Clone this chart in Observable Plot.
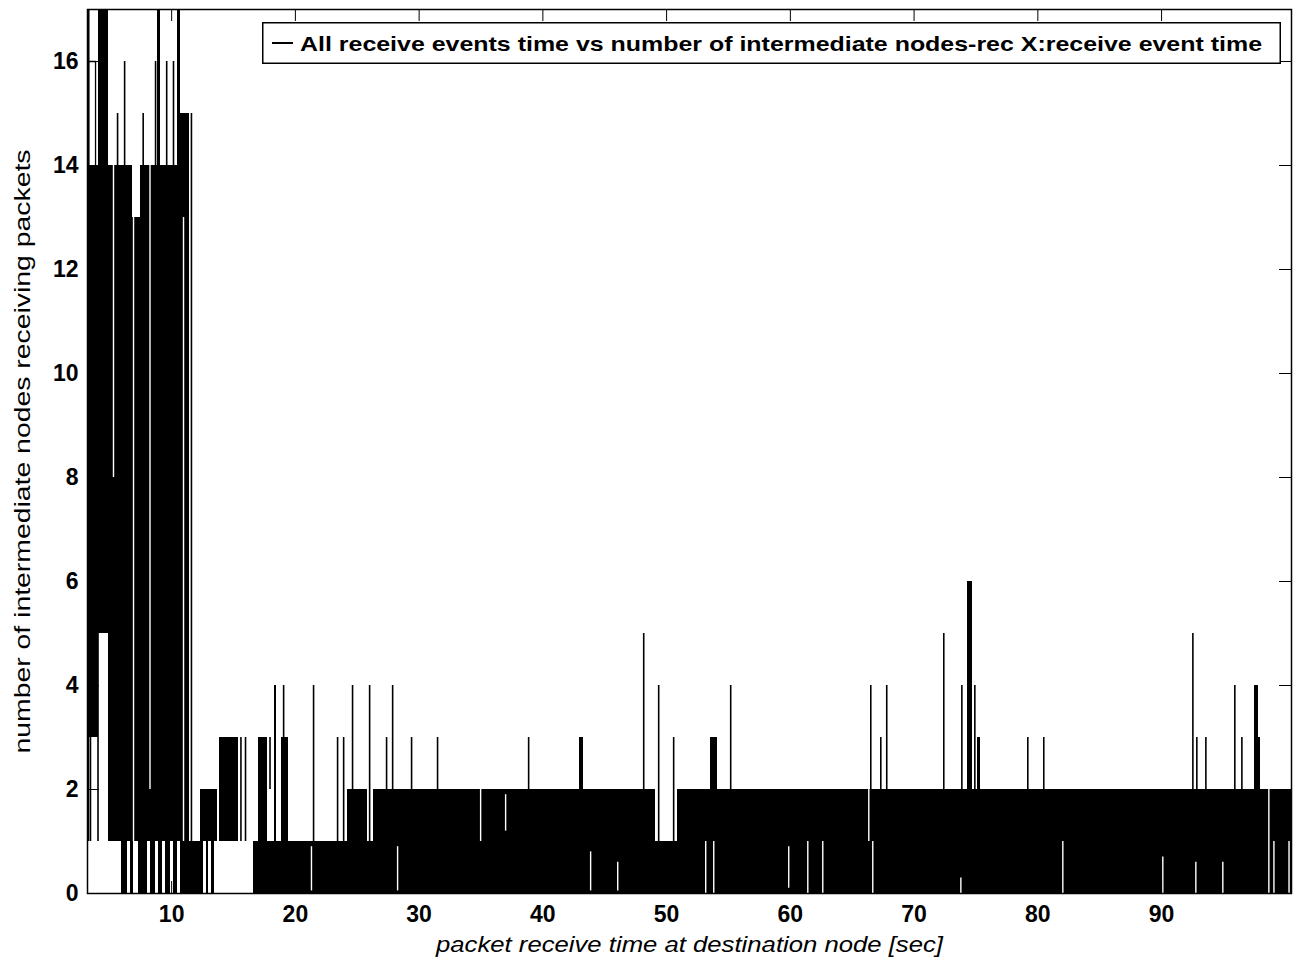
<!DOCTYPE html>
<html><head><meta charset="utf-8">
<script src="https://cdn.jsdelivr.net/npm/d3@7"></script>
<script src="https://cdn.jsdelivr.net/npm/@observablehq/plot@0.6"></script>
<style>
html,body{margin:0;padding:0;background:#fff;}
#wrap{position:relative;width:1298px;height:967px;overflow:hidden;background:#fff;}
#legend{position:absolute;left:262px;top:22px;}
</style></head><body>
<div id="wrap"></div>
<script>
// ---- tick labels and text ----
const xTicks = [10, 20, 30, 40, 50, 60, 70, 80, 90];
const yTicks = [0, 2, 4, 6, 8, 10, 12, 14, 16];
const xDomain = [3.2, 100.5];
const yDomain = [0, 17];
const xLabel = "packet receive time at destination node [sec]";
const yLabel = "number of intermediate nodes receiving packets";
const legendText = "All receive events time vs number of intermediate nodes-rec X:receive event time";

// ---- data: dense oscillation ranges [tStart, tEnd, lowNodes, highNodes] ----
const denseBands = [
  [3.2, 4.09, 3, 14], [4.09, 4.9, 5, 17], [4.9, 6.84, 1, 14], [6.84, 7.48, 1, 13],
  [7.48, 10.45, 1, 14], [8.85, 9.1, 14, 17], [10.45, 10.72, 1, 17], [10.72, 11.45, 1, 15],
  [5.93, 6.46, 0, 1], [6.64, 6.91, 0, 1], [7.35, 8.02, 0, 1], [8.29, 8.7, 0, 1],
  [8.97, 9.24, 0, 1], [9.51, 9.91, 0, 1], [10.18, 10.45, 0, 1], [10.72, 10.99, 0, 1],
  [10.96, 12.34, 0, 1], [12.34, 13.71, 1, 2],
  [12.34, 12.55, 0, 1], [12.8, 13.0, 0, 1], [13.25, 13.5, 0, 1],
  [13.85, 15.41, 1, 3], [17.02, 17.75, 1, 3], [18.3, 18.5, 1, 4], [18.85, 19.45, 1, 3],
  [16.62, 100.5, 0, 1],
  [24.22, 25.84, 1, 2], [26.32, 49.12, 1, 2], [50.9, 100.5, 1, 2],
  [42.95, 43.3, 2, 3], [53.56, 54.13, 2, 3], [74.3, 74.75, 2, 6], [75.1, 75.35, 2, 3],
  [97.55, 97.8, 2, 4], [97.8, 98.0, 2, 3]
];

// ---- data: single receive spikes [t, fromNodes, toNodes] ----
const spikes = [
  [3.3, 14, 17], [3.28, 1, 3], [3.44, 1, 3], [4.05, 1, 5],
  [5.63, 14, 15], [6.2, 14, 16], [7.7, 14, 15], [8.7, 14, 16], [9.6, 14, 16], [10.15, 14, 16],
  [11.6, 1, 15],
  [15.6, 1, 3], [15.97, 1, 3], [17.95, 2, 3], [19.05, 3, 4],
  [21.47, 1, 4], [23.41, 1, 3], [23.9, 1, 3], [24.62, 2, 4], [26.0, 1, 4],
  [27.37, 2, 3], [27.86, 2, 4], [29.39, 2, 3], [31.49, 2, 3], [38.85, 2, 3],
  [48.15, 2, 5], [49.36, 1, 4], [50.57, 1, 3], [55.18, 2, 4],
  [66.5, 2, 4], [67.31, 2, 3], [67.79, 2, 4], [72.4, 2, 5], [73.86, 2, 4], [74.91, 2, 4],
  [79.19, 2, 3], [80.48, 2, 3], [92.53, 2, 5], [92.85, 2, 3], [93.58, 2, 3],
  [95.92, 2, 4], [96.49, 2, 3]
];

// ---- data: times with no events inside a dense range [t, fromNodes, toNodes] ----
const gaps = [
  [5.3, 8, 14], [6.92, 1, 14], [8.25, 2, 14], [10.96, 1, 13],
  [34.97, 1, 2], [36.99, 1.2, 1.9], [66.34, 1, 2], [98.67, 0, 2],
  [21.3, 0.05, 0.9], [28.26, 0.05, 0.9], [43.86, 0.05, 0.8], [46.05, 0.05, 0.6],
  [53.16, 0, 1], [53.81, 0, 1], [59.87, 0.1, 0.9], [61.41, 0, 1], [62.62, 0, 1],
  [66.66, 0, 1], [73.78, 0, 0.3], [82.02, 0, 1], [90.1, 0, 0.7], [92.77, 0, 0.6],
  [94.95, 0, 0.6], [99.08, 0, 1], [100.3, 0, 1]
];

// ---- data: plateau trace at the start [t, nodes] ----
const plateau = [[3.28, 14], [3.28, 16], [3.85, 16], [3.85, 14]];

const W = 1298, H = 967, mL = 87, mR = 7, mT = 9, mB = 74;
const frameW = W - mL - mR, frameH = H - mT - mB, tickLen = 12;
const font = "'Liberation Sans', Arial, sans-serif";

const chart = Plot.plot({
  width: W, height: H,
  marginLeft: mL, marginRight: mR, marginTop: mT, marginBottom: mB,
  x: {domain: xDomain},
  y: {domain: yDomain},
  style: {background: "#fff", fontFamily: font, color: "#000"},
  marks: [
    Plot.rect(denseBands, {x1: d => d[0], x2: d => d[1], y1: d => d[2], y2: d => d[3], fill: "#000", inset: 0, shapeRendering: "crispEdges"}),
    Plot.ruleX(spikes, {x: d => d[0], y1: d => d[1], y2: d => d[2], stroke: "#000", strokeWidth: 1.6}),
    Plot.ruleX(gaps, {x: d => d[0], y1: d => d[1], y2: d => d[2], stroke: "#fff", strokeWidth: 1.4}),
    Plot.line(plateau, {x: d => d[0], y: d => d[1], stroke: "#000", strokeWidth: 1.3}),
    Plot.tickX(xTicks, {x: d => d, insetTop: frameH - tickLen, stroke: "#000"}),
    Plot.tickX(xTicks, {x: d => d, insetBottom: frameH - tickLen, stroke: "#000"}),
    Plot.tickY(yTicks, {y: d => d, insetRight: frameW - tickLen, stroke: "#000"}),
    Plot.tickY(yTicks, {y: d => d, insetLeft: frameW - tickLen, stroke: "#000"}),
    Plot.frame({stroke: "#000", strokeWidth: 1.5}),
    Plot.axisX({ticks: xTicks, tickSize: 0, tickPadding: 12, label: null, fontSize: 23, fontWeight: "bold"}),
    Plot.axisY({ticks: yTicks, tickSize: 0, tickPadding: 9, label: null, fontSize: 23, fontWeight: "bold"}),
    Plot.text([xLabel], {text: d => d, frameAnchor: "bottom", textAnchor: "middle", dy: 58, fontSize: 22, fontStyle: "italic"}),
    Plot.text([yLabel], {text: d => d, frameAnchor: "left", textAnchor: "middle", dx: -65, rotate: -90, fontSize: 22})
  ]
});

const wrap = document.getElementById("wrap");
wrap.appendChild(chart);

// stretch axis titles to the reference lengths
const titles = d3.select(chart).selectAll('g[aria-label="text"] text').nodes();
if (titles[0]) { titles[0].setAttribute("textLength", 507); titles[0].setAttribute("lengthAdjust", "spacingAndGlyphs"); }
if (titles[1]) { titles[1].setAttribute("textLength", 604); titles[1].setAttribute("lengthAdjust", "spacingAndGlyphs"); }

// legend
const ns = "http://www.w3.org/2000/svg";
const lg = document.createElementNS(ns, "svg");
lg.setAttribute("id", "legend");
lg.setAttribute("width", 1019); lg.setAttribute("height", 42);
lg.innerHTML = `<rect x="0.75" y="0.75" width="1017.5" height="40.5" fill="#fff" stroke="#000" stroke-width="1.5"/>
<line x1="10" x2="31" y1="21" y2="21" stroke="#000" stroke-width="2"/>
<text x="38" y="28.5" font-family="${font}" font-size="21" font-weight="bold" textLength="962" lengthAdjust="spacingAndGlyphs"></text>`;
lg.querySelector("text").textContent = legendText;
wrap.appendChild(lg);
</script>
</body></html>
